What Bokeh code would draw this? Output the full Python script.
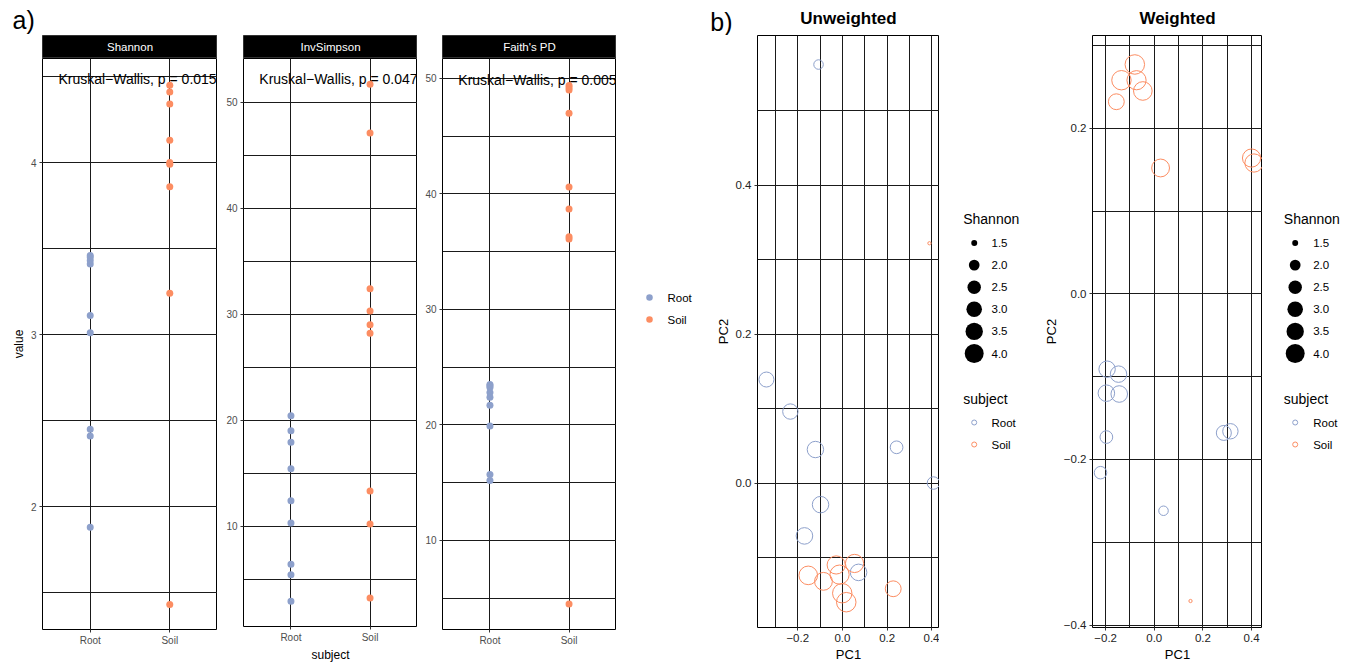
import math
from bokeh.plotting import figure
from bokeh.models import Range1d, FixedTicker, CustomJSTickFormatter, ColumnDataSource, Title
from bokeh.layouts import row, column
from bokeh.core.properties import value
from bokeh.embed import file_html
from bokeh.resources import INLINE

FONT = "Liberation Sans"

# ------------------------------------------------------------------ data
categories = ["Root", "Soil"]
subject_colors = ["#8DA0CB", "#FC8D62"]

subject = ["Root"] * 9 + ["Soil"] * 9
shannon = [1.88, 2.41, 2.45, 3.01, 3.11, 3.41, 3.43, 3.45, 3.46,
           1.43, 3.24, 3.86, 3.99, 4.00, 4.13, 4.34, 4.41, 4.45]
inv_simpson = [20.4, 19.0, 17.9, 15.4, 12.4, 10.3, 6.4, 5.4, 2.9,
               51.7, 47.1, 32.4, 30.3, 29.0, 28.2, 13.3, 10.2, 3.2]
faith_pd = [23.5, 23.4, 23.25, 22.8, 22.4, 21.7, 19.9, 15.7, 15.2,
            49.4, 49.2, 49.0, 47.0, 40.6, 38.7, 36.3, 36.1, 4.5]

unw_pc1 = [-0.107, 0.407, 0.242, -0.340, -0.233, -0.121, -0.098, -0.170, 0.072,
           0.389, 0.227, -0.085, -0.028, 0.054, -0.153, -0.013, -0.001, 0.017]
unw_pc2 = [0.562, 0.000, 0.048, 0.139, 0.096, 0.045, -0.029, -0.071, -0.120,
           0.322, -0.142, -0.132, -0.110, -0.108, -0.124, -0.123, -0.148, -0.160]
w_pc1 = [0.038, -0.221, -0.197, 0.286, 0.313, -0.194, -0.147, -0.197, -0.144,
         0.149, -0.156, 0.026, 0.400, 0.410, -0.047, -0.073, -0.135, -0.080]
w_pc2 = [-0.262, -0.216, -0.173, -0.168, -0.166, -0.091, -0.097, -0.120, -0.121,
         -0.371, 0.232, 0.152, 0.164, 0.158, 0.245, 0.258, 0.258, 0.277]

facet_names = ["Shannon", "InvSimpson", "Faith's PD"]
kw_pvalues = ["0.015", "0.047", "0.005"]
kw_label_y = [4.483, 52.16, 49.91]
shannon_legend_breaks = [1.5, 2.0, 2.5, 3.0, 3.5, 4.0]
pcoa_titles = ["Unweighted", "Weighted"]
panel_tags = ["a)", "b)"]

# ------------------------------------------------------------------ helpers
color_of = dict(zip(categories, subject_colors))
sub_x = [categories.index(s) + 1 for s in subject]
sub_col = [color_of[s] for s in subject]
sh_min, sh_max = min(shannon), max(shannon)


def size_scale(v, k):
    # ggplot-like area scale, range 1..6
    t = max(v - sh_min, 0.0) / (sh_max - sh_min)
    return k * (1 + 5 * math.sqrt(t))


GRID = "#1a1a1a"


def style_axes(p, tick_font, title_font, tick_color):
    p.axis.axis_line_color = None
    p.axis.major_tick_line_color = "#333333"
    p.axis.major_tick_out = 3
    p.axis.major_tick_in = 0
    p.axis.minor_tick_line_color = None
    p.axis.major_label_text_font = FONT
    p.axis.major_label_text_font_size = tick_font
    p.axis.major_label_text_color = tick_color
    p.axis.major_label_standoff = 2
    p.axis.axis_label_text_font = FONT
    p.axis.axis_label_text_font_size = title_font
    p.axis.axis_label_text_font_style = "normal"
    p.axis.axis_label_text_color = "black"
    p.axis.axis_label_standoff = 2
    p.grid.grid_line_color = GRID
    p.grid.grid_line_width = 1
    p.grid.minor_grid_line_color = GRID
    p.grid.minor_grid_line_width = 1
    p.outline_line_color = "black"
    p.outline_line_width = 1
    p.background_fill_color = "white"
    p.border_fill_color = "white"


def make_strip(name, width, left, tag=None):
    s = figure(width=width, height=58, x_range=Range1d(0, 1), y_range=Range1d(0, 1),
               output_backend="svg", toolbar_location=None, title_location=None,
               x_axis_location=None, y_axis_location=None,
               min_border_left=left, min_border_right=0, min_border_top=35, min_border_bottom=0)
    s.grid.visible = False
    s.background_fill_color = "black"
    s.border_fill_color = "white"
    s.outline_line_color = "#333333"
    s.text(x=[0.5], y=[0.5], text=[name], text_color="white", text_font=value(FONT),
           text_font_size="11.5px", text_align="center", text_baseline="middle")
    if tag:
        t = Title(text=tag, align="left", offset=-30, standoff=3, text_font=FONT,
                  text_font_size="25px", text_font_style="normal", text_color="black")
        s.add_layout(t, "above")
    return s


def make_alpha(vals, yr, majors, minors, label_y, ptxt, width, left, ylab, xlab):
    p = figure(width=width, height=606, x_range=Range1d(0.4, 2.6), y_range=Range1d(*yr),
               output_backend="svg", toolbar_location=None, title_location=None,
               min_border_left=left, min_border_right=0, min_border_top=0, min_border_bottom=35)
    style_axes(p, "10px", "12px", "#4d4d4d")
    xt = FixedTicker(ticks=[1, 2])
    yt = FixedTicker(ticks=majors, minor_ticks=minors)
    p.xaxis.ticker = xt
    p.xgrid.ticker = xt
    p.yaxis.ticker = yt
    p.ygrid.ticker = yt
    p.xaxis.major_label_overrides = {i + 1: c for i, c in enumerate(categories)}
    p.xgrid.minor_grid_line_color = None
    p.yaxis.axis_label = ylab
    p.xaxis.axis_label = xlab
    src = ColumnDataSource(dict(x=sub_x, y=vals, c=sub_col))
    p.scatter("x", "y", source=src, size=7, fill_color="c", line_color=None)
    p.text(x=[0.6], y=[label_y], text=["Kruskal\u2212Wallis, p = " + ptxt], text_font=value(FONT),
           text_font_size="14px", text_align="left", text_baseline="middle", text_color="black")
    return p


minus_fmt = CustomJSTickFormatter(code="return tick.toFixed(1).replace('-', '\u2212');")


def make_header(width, left, title, tag=None):
    h = figure(width=width, height=35, x_range=Range1d(0, 1), y_range=Range1d(35, 0),
               output_backend="svg", toolbar_location=None, title_location=None,
               x_axis_location=None, y_axis_location=("left" if tag else None),
               min_border_left=left, min_border_right=0, min_border_top=0, min_border_bottom=0)
    h.grid.visible = False
    h.outline_line_color = None
    h.background_fill_color = "white"
    h.border_fill_color = "white"
    h.text(x=[0.5], y=[17.5], text=[title], text_font=value(FONT), text_font_size="17px",
           text_font_style="bold", text_align="center", text_baseline="alphabetic",
           text_color="black")
    if tag:
        h.yaxis.ticker = FixedTicker(ticks=[21])
        h.yaxis.major_label_overrides = {21: tag}
        h.yaxis.major_label_text_font = FONT
        h.yaxis.major_label_text_font_size = "25px"
        h.yaxis.major_label_text_color = "black"
        h.yaxis.major_label_standoff = 19
        h.yaxis.major_tick_line_color = None
        h.yaxis.minor_tick_line_color = None
        h.yaxis.axis_line_color = None
    return h


def make_pcoa(px, py, xr, yr, xt_major, xt_minor, yt_major, yt_minor, width, left):
    p = figure(width=width, height=629, x_range=Range1d(*xr), y_range=Range1d(*yr),
               output_backend="svg", toolbar_location=None, title_location=None,
               min_border_left=left, min_border_right=0, min_border_top=0, min_border_bottom=35)
    style_axes(p, "11.5px", "13px", "#222222")
    xt = FixedTicker(ticks=xt_major, minor_ticks=xt_minor)
    yt = FixedTicker(ticks=yt_major, minor_ticks=yt_minor)
    p.xaxis.ticker = xt
    p.xgrid.ticker = xt
    p.yaxis.ticker = yt
    p.ygrid.ticker = yt
    p.xaxis.formatter = minus_fmt
    p.yaxis.formatter = minus_fmt
    p.xaxis.axis_label = "PC1"
    p.yaxis.axis_label = "PC2"
    sizes = [size_scale(v, 3.25) for v in shannon]
    src = ColumnDataSource(dict(x=px, y=py, s=sizes, c=sub_col))
    p.scatter("x", "y", source=src, size="s", marker="circle", fill_color=None,
              line_color="c", line_width=1)
    return p


def blank(width):
    f = figure(width=width, height=664, x_range=Range1d(0, width), y_range=Range1d(629, 35),
               output_backend="svg", toolbar_location=None, title_location=None,
               x_axis_location=None, y_axis_location=None,
               min_border_left=0, min_border_right=0, min_border_top=35, min_border_bottom=35)
    f.grid.visible = False
    f.outline_line_color = None
    f.background_fill_color = "white"
    f.border_fill_color = "white"
    return f


def legend_a(width):
    f = blank(width)
    ys = [297, 319]
    f.scatter(x=[33] * 2, y=ys, size=6.5, fill_color=subject_colors, line_color=None)
    f.text(x=[51] * 2, y=ys, text=categories, text_font=value(FONT), text_font_size="11.5px",
           text_baseline="middle", text_align="left", text_color="black")
    return f


def legend_b(width, tx, dx, lx):
    f = blank(width)
    f.text(x=[tx], y=[218], text=["Shannon"], text_font=value(FONT), text_font_size="14px",
           text_baseline="middle", text_align="left", text_color="black")
    ys = [242.5 + 22.1 * i for i in range(len(shannon_legend_breaks))]
    f.scatter(x=[dx] * len(ys), y=ys, size=[size_scale(v, 3.38) for v in shannon_legend_breaks],
              fill_color="black", line_color=None)
    f.text(x=[lx] * len(ys), y=ys, text=["%.1f" % v for v in shannon_legend_breaks],
           text_font=value(FONT), text_font_size="11.5px", text_baseline="middle",
           text_align="left", text_color="black")
    f.text(x=[tx], y=[398], text=["subject"], text_font=value(FONT), text_font_size="14px",
           text_baseline="middle", text_align="left", text_color="black")
    ys2 = [422, 444]
    f.scatter(x=[dx] * 2, y=ys2, size=5, marker="circle", fill_color=None,
              line_color=subject_colors, line_width=1)
    f.text(x=[lx] * 2, y=ys2, text=categories, text_font=value(FONT), text_font_size="11.5px",
           text_baseline="middle", text_align="left", text_color="black")
    return f


# ------------------------------------------------------------------ panels a
a1 = column(make_strip(facet_names[0], 217, 42, tag=panel_tags[0]),
            make_alpha(shannon, (1.285, 4.605), [2, 3, 4], [1.5, 2.5, 3.5, 4.5],
                       kw_label_y[0], kw_pvalues[0], 217, 42, "value", None),
            spacing=0)
a2 = column(make_strip(facet_names[1], 200, 26),
            make_alpha(inv_simpson, (0.52, 54.13), [10, 20, 30, 40, 50], [5, 15, 25, 35, 45],
                       kw_label_y[1], kw_pvalues[1], 200, 26, None, "subject"),
            spacing=0)
a3 = column(make_strip(facet_names[2], 199, 25),
            make_alpha(faith_pd, (2.29, 51.73), [10, 20, 30, 40, 50], [5, 15, 25, 35, 45],
                       kw_label_y[2], kw_pvalues[2], 199, 25, None, None),
            spacing=0)
la = legend_a(84)

# ------------------------------------------------------------------ panels b
b1 = column(make_header(239, 57, pcoa_titles[0], tag=panel_tags[1]),
            make_pcoa(unw_pc1, unw_pc2, (-0.380, 0.434), (-0.194, 0.601),
                      [-0.2, 0.0, 0.2, 0.4], [-0.3, -0.1, 0.1, 0.3],
                      [0.0, 0.2, 0.4], [-0.1, 0.1, 0.3, 0.5], 239, 57),
            spacing=0)
lb1 = legend_b(101, 23.7, 34.7, 52)
b2 = column(make_header(222, 45, pcoa_titles[1]),
            make_pcoa(w_pc1, w_pc2, (-0.254, 0.445), (-0.403, 0.312),
                      [-0.2, 0.0, 0.2, 0.4], [-0.1, 0.1, 0.3],
                      [-0.4, -0.2, 0.0, 0.2], [-0.3, -0.1, 0.1, 0.3], 222, 45),
            spacing=0)
lb2 = legend_b(92, 21.3, 32.7, 50.7)

layout = row(a1, a2, a3, la, b1, lb1, b2, lb2, spacing=0)

open("out.html", "w").write(file_html(layout, INLINE))
